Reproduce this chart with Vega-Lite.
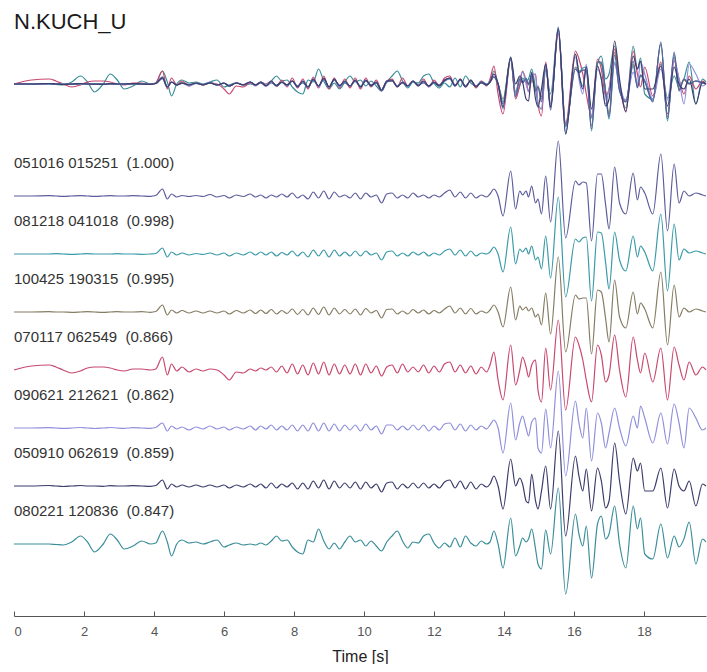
{
 "$schema": "https://vega.github.io/schema/vega-lite/v6.json",
 "background": "white",
 "padding": {"left": 11, "top": 11, "right": 0, "bottom": 0},
 "bounds": "flush",
 "spacing": 54,
 "config": {"view": {"stroke": null}},
 "datasets": {
  "labels": [
   {"k": "a", "label": "051016 015251 \u00a0(1.000)"},
   {"k": "b", "label": "081218 041018 \u00a0(0.998)"},
   {"k": "c", "label": "100425 190315 \u00a0(0.995)"},
   {"k": "d", "label": "070117 062549 \u00a0(0.866)"},
   {"k": "e", "label": "090621 212621 \u00a0(0.862)"},
   {"k": "f", "label": "050910 062619 \u00a0(0.859)"},
   {"k": "g", "label": "080221 120836 \u00a0(0.847)"}
  ],
  "wave": [
{"t":0,"a":0,"b":0,"c":0,"d":0,"e":0,"f":0,"g":0},
{"t":0.5,"a":0,"b":0,"c":0,"d":4,"e":0,"f":0,"g":0},
{"t":1.0,"a":0.3,"b":0,"c":0.3,"d":5,"e":0.3,"f":0.5,"g":0},
{"t":1.2,"a":0,"b":0.3,"c":0,"d":3,"e":0,"f":0,"g":-0.5},
{"t":1.4,"a":-0.3,"b":0,"c":0,"d":0,"e":-0.3,"f":-0.5,"g":-1},
{"t":1.65,"a":0,"b":-0.3,"c":-0.3,"d":-3,"e":0,"f":0,"g":2},
{"t":1.9,"a":0.3,"b":0,"c":0,"d":-1,"e":0.5,"f":0.5,"g":8},
{"t":2.1,"a":0,"b":0.3,"c":0.3,"d":2,"e":0,"f":0,"g":2},
{"t":2.3,"a":-0.3,"b":0,"c":0,"d":3,"e":-0.5,"f":0,"g":-8},
{"t":2.55,"a":0,"b":0,"c":-0.3,"d":3,"e":0,"f":-0.3,"g":0},
{"t":2.75,"a":0.3,"b":0,"c":0,"d":2,"e":0.5,"f":0.3,"g":10},
{"t":2.95,"a":0,"b":0.3,"c":0.3,"d":0,"e":0,"f":0,"g":4},
{"t":3.15,"a":0,"b":0,"c":0,"d":-1,"e":-0.3,"f":0,"g":-5},
{"t":3.4,"a":0.3,"b":0,"c":0,"d":1,"e":0.3,"f":0.3,"g":-2},
{"t":3.65,"a":0,"b":-0.3,"c":0.3,"d":1,"e":0,"f":0,"g":3},
{"t":3.9,"a":-0.3,"b":0,"c":-0.3,"d":0,"e":-0.3,"f":-0.3,"g":0},
{"t":4.05,"a":0.5,"b":0.5,"c":0.5,"d":1,"e":0.5,"f":0.5,"g":1},
{"t":4.24,"a":7,"b":6,"c":7,"d":13,"e":5,"f":6,"g":13},
{"t":4.38,"a":-3,"b":-3,"c":-3,"d":-5,"e":-3,"f":-3,"g":2},
{"t":4.5,"a":2,"b":2,"c":2,"d":6,"e":2,"f":2,"g":-12},
{"t":4.65,"a":-1,"b":-1,"c":-1,"d":-1,"e":-1,"f":-1,"g":0},
{"t":4.8,"a":0.5,"b":1,"c":1.5,"d":3,"e":1,"f":1,"g":4},
{"t":5.0,"a":-0.5,"b":-1,"c":-1,"d":-2,"e":-2,"f":-1,"g":1},
{"t":5.2,"a":0.5,"b":0.5,"c":1,"d":1,"e":1,"f":1,"g":2},
{"t":5.4,"a":-0.5,"b":-0.5,"c":-1,"d":-1,"e":-1,"f":-1,"g":0},
{"t":5.6,"a":1.5,"b":1,"c":1,"d":1,"e":2,"f":1,"g":2},
{"t":5.8,"a":-1,"b":-1,"c":-1,"d":0,"e":-1,"f":-1,"g":4},
{"t":6.0,"a":0.5,"b":1,"c":1,"d":-5,"e":1,"f":1,"g":-3},
{"t":6.15,"a":-2,"b":-2,"c":-2,"d":-10,"e":-2,"f":-2,"g":-1},
{"t":6.35,"a":1,"b":1,"c":1.5,"d":-2,"e":1,"f":1,"g":1},
{"t":6.55,"a":-0.5,"b":-1,"c":-1,"d":-3,"e":-1,"f":-1,"g":-1},
{"t":6.75,"a":2,"b":2,"c":2,"d":1,"e":2,"f":2,"g":0},
{"t":6.9,"a":-1,"b":-1,"c":-1.5,"d":-1,"e":-2,"f":-1,"g":-1},
{"t":7.05,"a":1,"b":2,"c":2,"d":2,"e":2,"f":2,"g":1},
{"t":7.2,"a":-2,"b":-1,"c":-1.5,"d":0,"e":-1,"f":-2,"g":-1},
{"t":7.35,"a":1,"b":2,"c":2.5,"d":3,"e":3,"f":3,"g":3},
{"t":7.5,"a":-1,"b":-2,"c":-2,"d":-2,"e":-2,"f":-2,"g":8},
{"t":7.65,"a":2,"b":1.5,"c":1.5,"d":4,"e":2,"f":2,"g":3},
{"t":7.8,"a":-1,"b":-1,"c":-1.5,"d":-3,"e":-2,"f":-1,"g":4},
{"t":7.95,"a":3,"b":3,"c":3,"d":6,"e":3,"f":3,"g":-3},
{"t":8.1,"a":-2,"b":-2,"c":-2.5,"d":-4,"e":-3,"f":-3,"g":-8},
{"t":8.25,"a":1,"b":2,"c":2.5,"d":5,"e":3,"f":3,"g":-10},
{"t":8.4,"a":-3,"b":-3,"c":-3,"d":-5,"e":-3,"f":-3,"g":4},
{"t":8.55,"a":4,"b":4,"c":4,"d":7,"e":5,"f":5,"g":2},
{"t":8.7,"a":-2,"b":-2,"c":-2.5,"d":-4,"e":-3,"f":-2,"g":15},
{"t":8.85,"a":5,"b":4,"c":5,"d":8,"e":5,"f":6,"g":3},
{"t":9.0,"a":-3,"b":-3,"c":-3,"d":-5,"e":-3,"f":-3,"g":-5},
{"t":9.15,"a":4,"b":4,"c":4,"d":6,"e":4,"f":5,"g":1},
{"t":9.3,"a":-1,"b":-2,"c":-2,"d":-4,"e":-3,"f":-2,"g":-5},
{"t":9.45,"a":1,"b":2,"c":2.5,"d":5,"e":3,"f":3,"g":2},
{"t":9.6,"a":-2,"b":-2,"c":-2,"d":-4,"e":-2,"f":-2,"g":8},
{"t":9.75,"a":3,"b":3,"c":3,"d":6,"e":3,"f":4,"g":2},
{"t":9.9,"a":-3,"b":-2,"c":-3,"d":-5,"e":-3,"f":-3,"g":4},
{"t":10.05,"a":3,"b":3,"c":3.5,"d":6,"e":4,"f":4,"g":-2},
{"t":10.2,"a":-1,"b":-1,"c":-1,"d":-3,"e":-2,"f":-2,"g":3},
{"t":10.35,"a":1,"b":1,"c":1.5,"d":4,"e":2,"f":2,"g":-2},
{"t":10.5,"a":-7,"b":-6,"c":-6,"d":-6,"e":-6,"f":-6,"g":-7},
{"t":10.65,"a":2,"b":2,"c":2.5,"d":3,"e":3,"f":3,"g":2},
{"t":10.8,"a":3,"b":3,"c":3,"d":5,"e":3,"f":4,"g":8},
{"t":10.95,"a":-2,"b":-2,"c":-2,"d":-3,"e":-2,"f":-3,"g":13},
{"t":11.1,"a":1,"b":1,"c":1,"d":6,"e":2,"f":2,"g":3},
{"t":11.25,"a":-2,"b":-2,"c":-2,"d":-2,"e":-2,"f":-2,"g":-4},
{"t":11.4,"a":3,"b":2,"c":2.5,"d":3,"e":3,"f":3,"g":2},
{"t":11.55,"a":-1,"b":-1,"c":-1,"d":-2,"e":-2,"f":-2,"g":1},
{"t":11.7,"a":1,"b":2,"c":2,"d":5,"e":3,"f":3,"g":8},
{"t":11.85,"a":-2,"b":-2,"c":-2,"d":-3,"e":-3,"f":-2,"g":10},
{"t":12.0,"a":1,"b":1,"c":1.5,"d":4,"e":2,"f":2,"g":1},
{"t":12.15,"a":-1,"b":-1,"c":-1,"d":-2,"e":-2,"f":-2,"g":-4},
{"t":12.3,"a":3,"b":3,"c":3,"d":6,"e":4,"f":4,"g":1},
{"t":12.45,"a":6,"b":5,"c":6,"d":8,"e":5,"f":6,"g":-3},
{"t":12.6,"a":-1,"b":-1,"c":-1,"d":-2,"e":-2,"f":-2,"g":6},
{"t":12.75,"a":4,"b":4,"c":4,"d":5,"e":4,"f":5,"g":-3},
{"t":12.9,"a":-2,"b":-2,"c":-2,"d":-3,"e":-3,"f":-3,"g":8},
{"t":13.05,"a":3,"b":3,"c":3.5,"d":4,"e":3,"f":4,"g":1},
{"t":13.2,"a":-2,"b":-2,"c":-2,"d":-4,"e":-2,"f":-3,"g":-2},
{"t":13.35,"a":1,"b":1,"c":1,"d":3,"e":2,"f":2,"g":3},
{"t":13.5,"a":-1,"b":0,"c":-1,"d":-2,"e":-1,"f":-1,"g":0},
{"t":13.6,"a":2,"b":2,"c":2,"d":5,"e":3,"f":2,"g":2},
{"t":13.71,"a":7,"b":7,"c":7,"d":18,"e":8,"f":10,"g":13},
{"t":13.83,"a":0,"b":0,"c":0,"d":-10,"e":0,"f":0,"g":0},
{"t":13.97,"a":-20,"b":-18,"c":-15,"d":-30,"e":-25,"f":-23,"g":-24},
{"t":14.19,"a":25,"b":27,"c":25,"d":25,"e":25,"f":27,"g":26},
{"t":14.33,"a":-13,"b":-10,"c":-8,"d":-15,"e":-12,"f":0,"g":-12},
{"t":14.45,"a":5,"b":5,"c":6,"d":0,"e":5,"f":8,"g":-2},
{"t":14.53,"a":1,"b":2,"c":2,"d":13,"e":12,"f":2,"g":6},
{"t":14.63,"a":5,"b":6,"c":5,"d":3,"e":0,"f":-15,"g":2},
{"t":14.7,"a":-1,"b":0,"c":1,"d":-7,"e":-8,"f":-17,"g":5},
{"t":14.79,"a":10,"b":8,"c":4,"d":5,"e":6,"f":12,"g":15},
{"t":14.9,"a":-7,"b":-6,"c":-5,"d":10,"e":10,"f":-15,"g":-5},
{"t":14.97,"a":-3,"b":-3,"c":-2,"d":-20,"e":-20,"f":-23,"g":-20},
{"t":15.07,"a":-18,"b":-15,"c":-13,"d":-32,"e":-25,"f":-5,"g":-25},
{"t":15.19,"a":20,"b":18,"c":19,"d":22,"e":19,"f":20,"g":14},
{"t":15.33,"a":-26,"b":-24,"c":-22,"d":-20,"e":-20,"f":-23,"g":-10},
{"t":15.55,"a":55,"b":57,"c":55,"d":50,"e":57,"f":55,"g":56},
{"t":15.76,"a":-42,"b":-43,"c":-40,"d":-40,"e":-48,"f":-50,"g":-50},
{"t":16.04,"a":15,"b":15,"c":17,"d":33,"e":27,"f":30,"g":30},
{"t":16.14,"a":11,"b":12,"c":13,"d":25,"e":5,"f":10,"g":10},
{"t":16.25,"a":14,"b":16,"c":14,"d":10,"e":-10,"f":-5,"g":-2},
{"t":16.35,"a":13,"b":17,"c":14,"d":-10,"e":20,"f":17,"g":18},
{"t":16.5,"a":-45,"b":-47,"c":-42,"d":-32,"e":-33,"f":-25,"g":-34},
{"t":16.67,"a":22,"b":22,"c":22,"d":25,"e":15,"f":18,"g":20},
{"t":16.78,"a":22,"b":21,"c":20,"d":15,"e":5,"f":5,"g":28},
{"t":16.9,"a":-8,"b":-8,"c":-6,"d":-12,"e":-20,"f":-22,"g":5},
{"t":17.0,"a":-33,"b":-35,"c":-30,"d":-5,"e":-5,"f":-15,"g":10},
{"t":17.16,"a":29,"b":22,"c":32,"d":35,"e":20,"f":43,"g":38},
{"t":17.3,"a":-7,"b":-6,"c":-5,"d":0,"e":0,"f":5,"g":0},
{"t":17.48,"a":-18,"b":-17,"c":-16,"d":-27,"e":-18,"f":-28,"g":-24},
{"t":17.69,"a":23,"b":18,"c":20,"d":33,"e":12,"f":28,"g":38},
{"t":17.81,"a":-4,"b":-3,"c":-2,"d":10,"e":0,"f":15,"g":15},
{"t":17.9,"a":9,"b":8,"c":9,"d":-3,"e":22,"f":23,"g":26},
{"t":18.02,"a":3,"b":2,"c":3,"d":17,"e":10,"f":-5,"g":-10},
{"t":18.25,"a":-18,"b":-17,"c":-16,"d":-12,"e":-15,"f":-5,"g":-15},
{"t":18.48,"a":42,"b":40,"c":40,"d":22,"e":15,"f":18,"g":20},
{"t":18.67,"a":-35,"b":-37,"c":-33,"d":-30,"e":-16,"f":-22,"g":-14},
{"t":18.86,"a":32,"b":30,"c":27,"d":23,"e":24,"f":17,"g":8},
{"t":19.0,"a":-7,"b":-6,"c":-5,"d":5,"e":5,"f":0,"g":-3},
{"t":19.14,"a":5,"b":5,"c":4,"d":-10,"e":-20,"f":-5,"g":5},
{"t":19.29,"a":0,"b":1,"c":0,"d":8,"e":20,"f":5,"g":22},
{"t":19.48,"a":3,"b":3,"c":3,"d":-5,"e":10,"f":-20,"g":-20},
{"t":19.67,"a":1,"b":1,"c":1,"d":3,"e":-2,"f":2,"g":5},
{"t":19.77,"a":0,"b":0,"c":0,"d":0,"e":0,"f":0,"g":2}
  ]
 },
 "vconcat": [
  {
   "width": 692,
   "height": 58,
   "layer": [
    {
     "data": {"name": "wave"},
     "transform": [{"fold": ["g", "d", "c", "b", "e", "a", "f"], "as": ["k", "v"]}],
     "mark": {"type": "line", "interpolate": "monotone", "strokeWidth": 1.2},
     "encoding": {
      "x": {"field": "t", "type": "quantitative", "scale": {"domain": [0, 19.77], "nice": false, "zero": false}, "axis": null},
      "y": {"field": "v", "type": "quantitative", "scale": {"domain": [-29, 29], "nice": false, "zero": false}, "axis": null},
      "color": {"field": "k", "type": "nominal", "scale": {"domain": ["a", "b", "c", "d", "e", "f", "g"], "range": ["#5c5c9c", "#3a9aa8", "#857c62", "#c8486e", "#8f8fdc", "#3c3c6c", "#3a8e9a"]}, "legend": null}
     }
    },
    {
     "data": {"values": [{"t": 0, "name": "N.KUCH_U"}]},
     "mark": {"type": "text", "align": "left", "baseline": "alphabetic", "fontSize": 22, "font": "Liberation Sans", "color": "#1a1a1a"},
     "encoding": {
      "x": {"field": "t", "type": "quantitative"},
      "y": {"datum": 55},
      "text": {"field": "name"}
     }
    }
   ]
  },
  {
   "data": {"name": "wave"},
   "transform": [
    {"fold": ["a", "b", "c", "d", "e", "f", "g"], "as": ["k", "v"]},
    {"lookup": "k", "from": {"data": {"name": "labels"}, "key": "k", "fields": ["label"]}}
   ],
   "bounds": "flush",
   "spacing": 0,
   "facet": {"row": {"field": "k", "type": "nominal", "header": null, "sort": ["a", "b", "c", "d", "e", "f", "g"]}},
   "spec": {
    "width": 692,
    "height": 58,
    "layer": [
     {
      "mark": {"type": "line", "interpolate": "monotone", "strokeWidth": 1.2},
      "encoding": {
       "x": {
        "field": "t", "type": "quantitative",
        "scale": {"domain": [0, 19.77], "nice": false, "zero": false},
        "axis": {
         "values": [0,1,2,3,4,5,6,7,8,9,10,11,12,13,14,15,16,17,18,19],
         "labelExpr": "datum.value % 2 === 0 ? datum.label : ''",
         "title": "Time [s]",
         "offset": 43,
         "grid": false,
         "tickSize": {"condition": {"test": "datum.value % 2 === 0", "value": -5}, "value": -3},
         "domainColor": "#555", "tickColor": "#555",
         "labelColor": "#555", "labelFontSize": 13, "labelFont": "Liberation Sans", "labelPadding": 14,
         "titleFontSize": 16, "titleFontWeight": "normal", "titleFont": "Liberation Sans", "titleColor": "#222", "titlePadding": 10
        }
       },
       "y": {"field": "v", "type": "quantitative", "scale": {"domain": [-29, 29], "nice": false, "zero": false}, "axis": null},
       "color": {"field": "k", "type": "nominal", "scale": {"domain": ["a", "b", "c", "d", "e", "f", "g"], "range": ["#5c5c9c", "#3a9aa8", "#857c62", "#c8486e", "#8f8fdc", "#3c3c6c", "#3a8e9a"]}, "legend": null}
      }
     },
     {
      "transform": [{"filter": "datum.t === 0"}],
      "mark": {"type": "text", "align": "left", "baseline": "middle", "fontSize": 15, "font": "Liberation Sans", "color": "#333"},
      "encoding": {
       "x": {"field": "t", "type": "quantitative"},
       "y": {"datum": 33},
       "text": {"field": "label"}
      }
     }
    ]
   }
  }
 ]
}
